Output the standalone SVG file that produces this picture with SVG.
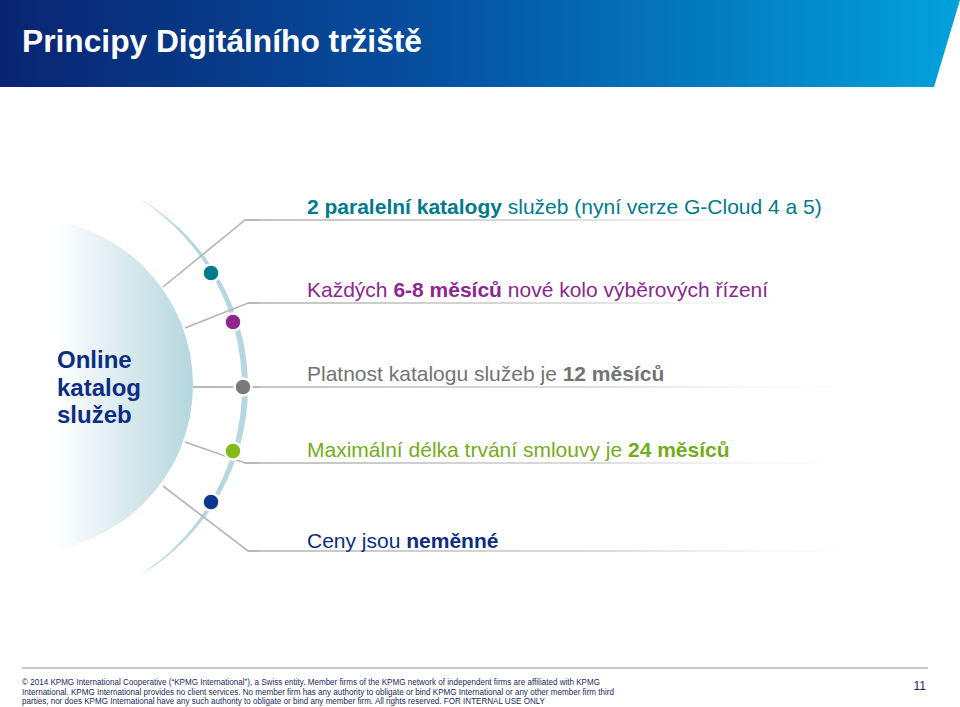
<svg xmlns="http://www.w3.org/2000/svg" width="960" height="707" viewBox="0 0 960 707">
<defs>
<linearGradient id="hdr" x1="0" y1="0" x2="1" y2="0">
<stop offset="0" stop-color="#0a2471"/>
<stop offset="0.45" stop-color="#0650a0"/>
<stop offset="1" stop-color="#02a2dc"/>
</linearGradient>
<linearGradient id="disc" gradientUnits="userSpaceOnUse" x1="55" y1="0" x2="195" y2="0">
<stop offset="0" stop-color="#ffffff"/>
<stop offset="1" stop-color="#b4d6de"/>
</linearGradient>
<linearGradient id="fade" x1="0" y1="0" x2="1" y2="0">
<stop offset="0" stop-color="#b4b4b4"/>
<stop offset="0.55" stop-color="#d4d4d4"/>
<stop offset="1" stop-color="#ffffff" stop-opacity="0"/>
</linearGradient>
</defs>
<style>
.t{font-family:"Liberation Sans",Arial,sans-serif;font-size:21px}
.b{font-weight:bold}
.hub{font-family:"Liberation Sans",Arial,sans-serif;font-size:24px;font-weight:bold;fill:#0c2d83}
.con{fill:none;stroke:#b4b4b4;stroke-width:1.6}
.dot{stroke:#ffffff;stroke-width:2.5}
.ft{font-family:"Liberation Sans",Arial,sans-serif;font-size:8.5px;fill:#1a2a5a}
</style>
<g id="header">
<path d="M0,0 H960 L934,87 H0 Z" fill="url(#hdr)"/>
<text x="22" y="52" font-family="Liberation Sans, Arial, sans-serif" font-size="31" font-weight="bold" fill="#ffffff" textLength="400" lengthAdjust="spacingAndGlyphs">Principy Digitálního tržiště</text>
</g>
<g id="hub">
<circle cx="26" cy="385" r="167" fill="url(#disc)"/>
<text class="hub"><tspan x="57" y="368">Online</tspan><tspan x="57" y="396">katalog</tspan><tspan x="57" y="423">služeb</tspan></text>
</g>
<g id="arc">
<path d="M140,198.8 A218,218 0 0 1 140,575.2 A224.6,224.6 0 0 0 140,198.8 Z" fill="#b5d8e0"/>
</g>
<g id="connectors">
<polyline class="con" points="163,287 245,220 260,220"/>
<rect x="245" y="219.2" width="595" height="1.6" fill="url(#fade)"/>
<polyline class="con" points="185,328 248,303 260,303"/>
<rect x="248" y="302.2" width="595" height="1.6" fill="url(#fade)"/>
<line class="con" x1="193" y1="387" x2="260" y2="387"/>
<rect x="193" y="386.2" width="705" height="1.6" fill="url(#fade)"/>
<polyline class="con" points="185,442 245,463 260,463"/>
<rect x="245" y="462.2" width="655" height="1.6" fill="url(#fade)"/>
<polyline class="con" points="163,486 248,551 260,551"/>
<rect x="248" y="550.2" width="665" height="1.6" fill="url(#fade)"/>
</g>
<g id="item1">
<circle class="dot" cx="211" cy="273" r="8.5" fill="#007b8c"/>
<text class="t" x="307" y="214" fill="#007b8c"><tspan class="b">2 paralelní katalogy</tspan> služeb (nyní verze G-Cloud 4 a 5)</text>
</g>
<g id="item2">
<circle class="dot" cx="233" cy="322" r="8.5" fill="#8e2690"/>
<text class="t" x="307" y="297" fill="#8e2690">Každých <tspan class="b">6-8 měsíců</tspan> nové kolo výběrových řízení</text>
</g>
<g id="item3">
<circle class="dot" cx="243" cy="387" r="8.5" fill="#7a7a7a"/>
<text class="t" x="307" y="381" fill="#737373">Platnost katalogu služeb je <tspan class="b">12 měsíců</tspan></text>
</g>
<g id="item4">
<circle class="dot" cx="233" cy="451" r="8.5" fill="#84bb1c"/>
<text class="t" x="307" y="457" fill="#74ad1a">Maximální délka trvání smlouvy je <tspan class="b">24 měsíců</tspan></text>
</g>
<g id="item5">
<circle class="dot" cx="211" cy="502" r="8.5" fill="#0c3690"/>
<text class="t" x="307" y="548" fill="#0c2d83">Ceny jsou <tspan class="b">neměnné</tspan></text>
</g>
<g id="footer">
<line x1="22" y1="668" x2="928" y2="668" stroke="#c6ccd3" stroke-width="2"/>
<text class="ft" x="22" y="685" textLength="578" lengthAdjust="spacingAndGlyphs">© 2014 KPMG International Cooperative (“KPMG  International”), a Swiss entity. Member firms of the KPMG network of  independent firms are affiliated with KPMG</text>
<text class="ft" x="22" y="694.5" textLength="592" lengthAdjust="spacingAndGlyphs">International. KPMG International  provides no client services. No member firm has any authority to obligate or  bind KPMG International or any other member firm third</text>
<text class="ft" x="22" y="704" textLength="523" lengthAdjust="spacingAndGlyphs">parties, nor does KPMG  International have any such authority to obligate or bind any member firm. All rights reserved. FOR INTERNAL USE ONLY</text>
<text x="926" y="690" font-family="Liberation Sans, Arial, sans-serif" font-size="12" fill="#1a2a5a" text-anchor="end">11</text>
</g>
</svg>
